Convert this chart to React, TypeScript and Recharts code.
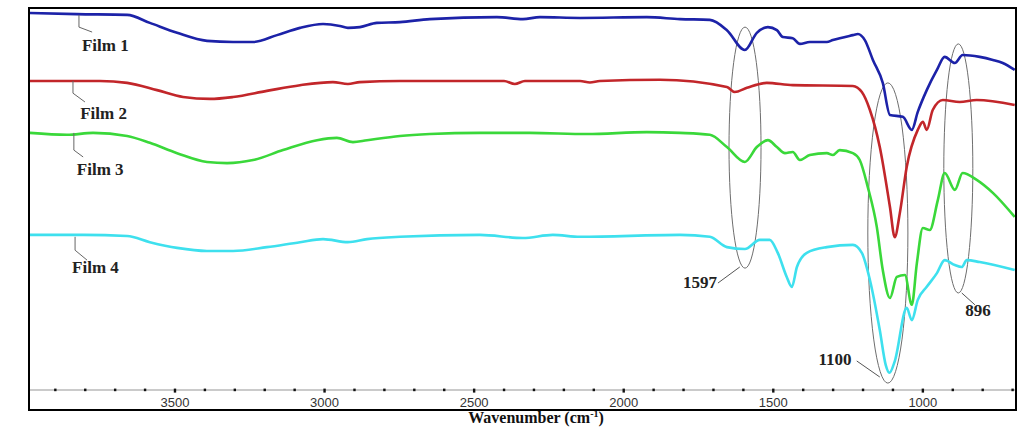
import { LineChart, Line, XAxis, YAxis, ReferenceArea, ReferenceLine, ReferenceDot, Label } from "recharts";

// wavenumber (cm-1), transmittance (%)
const FILM1: [number, number][] = [
  [3985, 98.7], [3828, 98.4], [3660, 98.2], [3584, 96.1], [3493, 93.5], [3393, 91.4], [3306, 91.1],
  [3239, 91.1], [3159, 92.9], [3082, 94.8], [3005, 95.8], [2949, 95.3], [2922, 94.8], [2882, 95.0],
  [2825, 96.1], [2748, 96.3], [2648, 97.1], [2424, 97.6], [2337, 97.1], [2280, 97.6], [2146, 97.4],
  [1923, 97.6], [1812, 97.1], [1712, 96.9], [1655, 94.2], [1595, 89.0], [1555, 93.5], [1518, 95.0],
  [1488, 94.2], [1468, 92.4], [1435, 92.1], [1411, 90.6], [1378, 91.1], [1321, 91.1], [1301, 91.6],
  [1234, 92.9], [1217, 93.2], [1194, 91.6], [1167, 86.4], [1134, 80.4], [1110, 72.0], [1067, 71.5],
  [1037, 68.1], [1017, 72.8], [987, 78.5], [953, 83.8], [927, 87.2], [893, 85.6], [867, 87.7],
  [810, 87.2], [766, 86.4], [733, 85.6], [693, 83.8],
];

const FILM2: [number, number][] = [
  [3985, 80.9], [3751, 80.9], [3660, 80.4], [3560, 78.5], [3473, 76.7], [3383, 76.2], [3306, 76.7],
  [3193, 78.3], [3082, 79.8], [2972, 80.6], [2922, 80.1], [2882, 80.6], [2748, 80.9], [2400, 80.9],
  [2364, 80.1], [2330, 80.9], [2146, 80.9], [2113, 80.5], [2080, 80.9], [1879, 81.2], [1655, 79.3],
  [1629, 78.0], [1588, 79.1], [1522, 80.4], [1435, 79.8], [1234, 79.6], [1204, 78.0], [1177, 73.3],
  [1144, 63.6], [1110, 47.9], [1094, 40.0], [1077, 46.3], [1054, 58.4], [1017, 68.1], [1000, 70.2],
  [987, 68.1], [967, 73.3], [933, 75.9], [877, 75.4], [820, 75.9], [693, 74.6],
];

const FILM3: [number, number][] = [
  [3985, 67.3], [3861, 66.8], [3774, 67.3], [3660, 66.5], [3584, 64.7], [3493, 62.0], [3393, 59.7],
  [3326, 59.4], [3239, 60.2], [3139, 62.8], [3025, 65.4], [2959, 66.0], [2905, 64.9], [2858, 65.4],
  [2748, 66.5], [2648, 67.0], [2481, 67.3], [2314, 67.3], [2123, 67.0], [1923, 67.5], [1812, 67.3],
  [1712, 66.8], [1655, 63.6], [1595, 59.7], [1555, 63.6], [1518, 65.4], [1488, 63.6], [1461, 62.0],
  [1435, 62.3], [1411, 60.2], [1378, 61.5], [1321, 62.0], [1301, 61.5], [1278, 62.8], [1234, 62.0],
  [1211, 60.2], [1184, 53.1], [1154, 42.7], [1134, 31.4], [1110, 24.1], [1087, 29.6], [1060, 30.1],
  [1037, 22.3], [1020, 33.2], [1000, 42.4], [977, 41.9], [950, 49.7], [927, 56.8], [893, 52.4],
  [867, 56.8], [820, 55.0], [766, 51.6], [693, 45.3],
];

const FILM4: [number, number][] = [
  [3985, 40.6], [3807, 40.6], [3660, 40.3], [3584, 38.7], [3493, 37.2], [3393, 36.4], [3306, 36.4],
  [3193, 37.4], [3082, 38.7], [3005, 39.5], [2922, 38.7], [2858, 39.5], [2748, 40.1], [2481, 40.6],
  [2337, 39.8], [2237, 40.6], [2146, 40.1], [1812, 40.6], [1712, 40.1], [1655, 37.4], [1595, 36.9],
  [1545, 39.3], [1512, 39.3], [1485, 35.9], [1455, 29.6], [1438, 27.0], [1421, 32.2], [1388, 35.9],
  [1321, 37.4], [1234, 38.0], [1204, 35.9], [1177, 28.8], [1144, 15.7], [1124, 6.5], [1112, 4.5],
  [1094, 7.5], [1054, 21.5], [1037, 18.3], [1017, 23.6], [987, 27.0], [953, 30.6], [927, 34.0],
  [893, 32.7], [870, 32.2], [853, 34.0], [810, 33.5], [693, 31.4],
];

const SERIES = [
  { name: "Film 1", points: FILM1, color: "#1c22a8" },
  { name: "Film 2", points: FILM2, color: "#c2262a" },
  { name: "Film 3", points: FILM3, color: "#3ad83a" },
  { name: "Film 4", points: FILM4, color: "#3ee0ee" },
];

const X_TICKS = [3900, 3800, 3700, 3600, 3500, 3400, 3300, 3200, 3100, 3000, 2900, 2800, 2700, 2600, 2500,
  2400, 2300, 2200, 2100, 2000, 1900, 1800, 1700, 1600, 1500, 1400, 1300, 1200, 1100, 1000, 900, 800, 700];

// film label: text anchor point, leader polyline
const FILM_LABELS = [
  { text: "Film 1", at: [3811, 90.3], leader: [[3821, 98.2], [3821, 95.0], [3777, 93.7]] },
  { text: "Film 2", at: [3817, 72.5], leader: [[3841, 80.9], [3841, 77.7], [3801, 75.4]] },
  { text: "Film 3", at: [3828, 57.9], leader: [[3838, 67.3], [3838, 62.8], [3807, 61.0]] },
  { text: "Film 4", at: [3844, 32.2], leader: [[3834, 40.1], [3834, 36.6], [3794, 34.0]] },
];

// marked bands: ellipse bounds (x1, x2, y1, y2), label point, leader
const BANDS = [
  { text: "1597", box: [1648, 1541, 95.0, 31.9], at: [1745, 28.3], leader: [[1685, 28.0], [1612, 32.2]] },
  { text: "1100", box: [1184, 1050, 80.4, 1.8], at: [1294, 8.1], leader: [[1221, 7.6], [1144, 3.4]] },
  { text: "896", box: [930, 833, 90.6, 25.4], at: [816, 20.9], leader: [[870, 25.4], [826, 22.3]] },
];

const SERIF = "'Liberation Serif', 'Times New Roman', serif";

const Ellipse = (p: any) => {
  const w = Math.abs(p.width);
  const h = Math.abs(p.height);
  const x = Math.min(p.x, p.x + p.width);
  const y = Math.min(p.y, p.y + p.height);
  return <ellipse cx={x + w / 2} cy={y + h / 2} rx={w / 2} ry={h / 2} fill="none" stroke="#6e6e6e" strokeWidth={1} />;
};

const WaveTick = ({ x, y, payload }: any) => {
  const major = payload.value % 500 === 0;
  return (
    <g>
      <rect x={x - 1.2} y={y - 1.4} width={2.4} height={major ? 4 : 2.6} fill="#111" />
      {major && (
        <text x={x} y={y + 17} textAnchor="middle" fontFamily="'Liberation Sans', Arial, sans-serif" fontSize={13} fill="#333">
          {payload.value}
        </text>
      )}
    </g>
  );
};

const textAt = (text: string, anchor: "start" | "middle") => (p: any) => (
  <text x={p.cx} y={p.cy + 6} textAnchor={anchor} fontFamily={SERIF} fontWeight="bold" fontSize={17} fill="#222">
    {text}
  </text>
);

export default function App() {
  return (
    <div style={{ position: "absolute", left: 0, top: 0, width: 1024, height: 435, background: "#fff" }}>
      <LineChart width={1024} height={435} margin={{ top: 8, right: 9, left: 29, bottom: 26 }}>
        <XAxis
          dataKey="w"
          type="number"
          reversed
          domain={[692, 3988]}
          allowDataOverflow
          ticks={X_TICKS}
          interval={0}
          height={19}
          stroke="#b8b8b8"
          axisLine={{ stroke: "#b8b8b8", strokeWidth: 1.6 }}
          tickLine={false}
          tickSize={0}
          tickMargin={0}
          tick={<WaveTick />}
        >
          <Label
            content={({ viewBox }: any) => (
              <text x={viewBox.x + viewBox.width / 2 + 14} y={viewBox.y + viewBox.height + 14} textAnchor="middle"
                fontFamily={SERIF} fontWeight="bold" fontSize={16} fill="#111">
                Wavenumber (cm<tspan dy={-6} fontSize={10}>-1</tspan><tspan dy={6}>)</tspan>
              </text>
            )}
          />
        </XAxis>
        <YAxis type="number" domain={[0, 100]} allowDataOverflow width={0} tick={false} axisLine={false} tickLine={false}>
          <Label
            content={({ viewBox }: any) => {
              const cx = viewBox.x - 11;
              const cy = viewBox.y + viewBox.height / 2 - 3;
              return (
                <text x={cx} y={cy} transform={`rotate(-90 ${cx} ${cy})`} textAnchor="middle" dominantBaseline="middle"
                  fontFamily={SERIF} fontWeight="bold" fontSize={16} fill="#111">
                  Transmittance (%)
                </text>
              );
            }}
          />
        </YAxis>

        {SERIES.map((s) => (
          <Line
            key={s.name}
            name={s.name}
            data={s.points.map(([w, t]) => ({ w, t }))}
            dataKey="t"
            type="monotone"
            stroke={s.color}
            strokeWidth={2.6}
            dot={false}
            isAnimationActive={false}
          />
        ))}

        {FILM_LABELS.map((f) => [
          <ReferenceLine key={f.text + "a"} segment={[{ x: f.leader[0][0], y: f.leader[0][1] }, { x: f.leader[1][0], y: f.leader[1][1] }]} stroke="#666" strokeWidth={1} />,
          <ReferenceLine key={f.text + "b"} segment={[{ x: f.leader[1][0], y: f.leader[1][1] }, { x: f.leader[2][0], y: f.leader[2][1] }]} stroke="#666" strokeWidth={1} />,
          <ReferenceDot key={f.text + "t"} x={f.at[0]} y={f.at[1]} r={0} shape={textAt(f.text, "start")} />,
        ])}

        {BANDS.map((b) => [
          <ReferenceArea key={b.text + "e"} x1={b.box[0]} x2={b.box[1]} y1={b.box[2]} y2={b.box[3]} shape={Ellipse} />,
          <ReferenceLine key={b.text + "l"} segment={[{ x: b.leader[0][0], y: b.leader[0][1] }, { x: b.leader[1][0], y: b.leader[1][1] }]} stroke="#555" strokeWidth={1} />,
          <ReferenceDot key={b.text + "t"} x={b.at[0]} y={b.at[1]} r={0} shape={textAt(b.text, "middle")} />,
        ])}
      </LineChart>
      <div style={{ position: "absolute", left: 28, top: 7, width: 989, height: 404, border: "2px solid #000", boxSizing: "border-box", pointerEvents: "none" }} />
    </div>
  );
}
